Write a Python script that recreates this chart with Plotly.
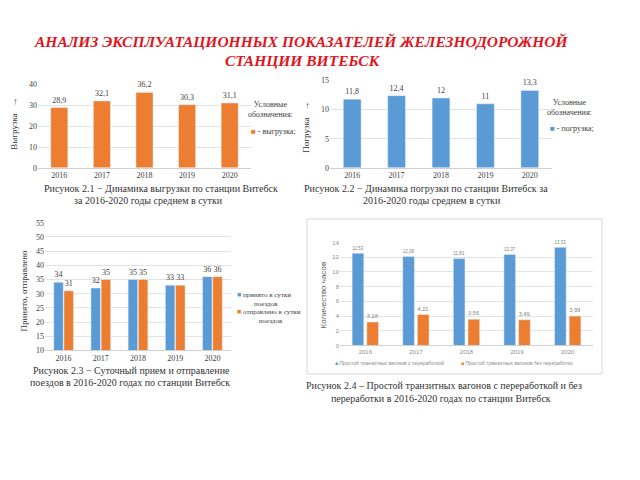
import plotly.graph_objects as go

# ---------------- data ----------------
years = ["2016", "2017", "2018", "2019", "2020"]
unloading = [28.9, 32.1, 36.2, 30.3, 31.1]          # Рис. 2.1 выгрузка
loading = [11.8, 12.4, 12, 11, 13.3]                # Рис. 2.2 погрузка
trains_received = [34, 32, 35, 33, 36]              # Рис. 2.3 принято
trains_sent = [31, 35, 35, 33, 36]                  # Рис. 2.3 отправлено
idle_with = [12.53, 12.08, 11.81, 12.37, 13.33]     # Рис. 2.4 с переработкой
idle_without = [3.18, 4.21, 3.56, 3.49, 3.99]       # Рис. 2.4 без переработки

ORANGE = "#ed7d31"
BLUE = "#5b9bd5"
SERIF = "Liberation Serif, DejaVu Serif, serif"
SANS = "Liberation Sans, Arial, sans-serif"
GRID = "#e3e3e3"
TXT = "#404040"
W, H = 640, 480


def px(x):
    return x / W


def py(y):
    return 1 - y / H


fig = go.Figure()

lab_serif = dict(family=SERIF, size=8, color=TXT)
lab_sans = dict(family=SANS, size=6, color="#7f7f7f")

# Chart 1
fig.add_bar(x=years, y=unloading, xaxis="x", yaxis="y", marker_color=ORANGE,
            width=0.4, texttemplate="%{y}", textposition="outside",
            textfont=lab_serif, cliponaxis=False, showlegend=False)
# Chart 2
fig.add_bar(x=years, y=loading, xaxis="x2", yaxis="y2", marker_color=BLUE,
            width=0.4, texttemplate="%{y}", textposition="outside",
            textfont=lab_serif, cliponaxis=False, showlegend=False)
# Chart 3
fig.add_bar(x=years, y=trains_received, xaxis="x3", yaxis="y3", marker_color=BLUE,
            width=0.255, offset=-0.265, texttemplate="%{y}", textposition="outside",
            textfont=lab_serif, cliponaxis=False, showlegend=False,
            name="принято в сутки поездов")
fig.add_bar(x=years, y=trains_sent, xaxis="x3", yaxis="y3", marker_color=ORANGE,
            width=0.255, offset=0.01, texttemplate="%{y}", textposition="outside",
            textfont=lab_serif, cliponaxis=False, showlegend=False,
            name="отправлено в сутки поездов")
# Chart 4
fig.add_bar(x=years, y=idle_with, xaxis="x4", yaxis="y4", marker_color=BLUE,
            width=0.23, offset=-0.26, texttemplate="%{y}", textposition="outside",
            textfont=lab_sans, cliponaxis=False, showlegend=False,
            name="Простой транзитных вагонов с переработкой")
fig.add_bar(x=years, y=idle_without, xaxis="x4", yaxis="y4", marker_color=ORANGE,
            width=0.23, offset=0.03, texttemplate="%{y}", textposition="outside",
            textfont=lab_sans, cliponaxis=False, showlegend=False,
            name="Простой транзитных вагонов без переработки")


def xax(x0, x1, y_anchor, font):
    return dict(domain=[px(x0), px(x1)], anchor=y_anchor, type="category",
                showline=True, linecolor="#d0d0d0", linewidth=1,
                showgrid=False, zeroline=False, ticks="",
                tickfont=font, fixedrange=True)


def yax(y0, y1, x_anchor, rng, dtick, font):
    return dict(domain=[py(y0), py(y1)], anchor=x_anchor, range=rng, dtick=dtick,
                showline=False, showgrid=True, gridcolor=GRID, gridwidth=1,
                zeroline=False, ticks="", tickfont=font, fixedrange=True)


tick_serif = dict(family=SERIF, size=8, color="#404040")
tick_sans = dict(family=SANS, size=6, color="#8c8c8c")

annotations = []


def note(text, x, y, size=10, color="#333333", family=SERIF, xanchor="center",
         angle=0, yanchor="middle", weight="normal", style="normal"):
    annotations.append(dict(text=text, x=px(x), y=py(y), xref="paper", yref="paper",
                            showarrow=False, xanchor=xanchor, yanchor=yanchor,
                            textangle=angle,
                            font=dict(family=family, size=size, color=color,
                                      weight=weight, style=style)))


# Title
note("АНАЛИЗ ЭКСПЛУАТАЦИОННЫХ ПОКАЗАТЕЛЕЙ ЖЕЛЕЗНОДОРОЖНОЙ", 301, 38,
     size=15.5, color="#e3151c", weight="bold", style="italic")
note("СТАНЦИИ ВИТЕБСК", 303, 58, size=15.5, color="#e3151c",
     weight="bold", style="italic")

# Axis titles
note("Выгрузка\u00a0\u00a0\u00a0\u2192", 14, 122, size=9, angle=-90)
note("Погрузка\u00a0\u00a0\u00a0\u2192", 306, 126, size=9, angle=-90)
note("Принято, отправлено", 24, 292, size=9, angle=-90)
note("Количество часов", 323, 297, size=8, family=SANS, color="#595959", angle=-90)

# Legends chart 1
note("Условные<br>обозначения:", 270, 108, size=8, color=TXT)
note("<span style='color:%s'>■</span> - выгрузка;" % ORANGE, 249, 130, size=8,
     color=TXT, xanchor="left")
# Legends chart 2
note("Условные<br>обозначения:", 569, 105, size=8, color=TXT)
note("<span style='color:%s'>■</span> - погрузка;" % BLUE, 548, 127, size=8,
     color=TXT, xanchor="left")
# Legends chart 3
note("<span style='color:%s'>■</span> принято в сутки<br>\u00a0\u00a0поездов" % BLUE,
     235, 301, size=7, color=TXT, xanchor="left")
note("<span style='color:%s'>■</span> отправлено в сутки<br>\u00a0\u00a0поездов" % ORANGE,
     235, 318, size=7, color=TXT, xanchor="left")
# Legends chart 4
note("<span style='color:%s'>■</span> Простой транзитных вагонов с переработкой" % BLUE,
     333, 366, size=5, family=SANS, color="#8c8c8c", xanchor="left")
note("<span style='color:%s'>■</span> Простой транзитных вагонов без переработки" % ORANGE,
     459, 366, size=5, family=SANS, color="#8c8c8c", xanchor="left")

# Captions
note("Рисунок 2.1 \u2212 Динамика выгрузки по станции Витебск", 161, 188)
note("за 2016-2020 годы среднем в сутки", 148, 200)
note("Рисунок 2.2 \u2212 Динамика погрузки по станции Витебск за", 426, 188)
note("2016-2020 годы среднем в сутки", 432, 200)
note("Рисунок 2.3 \u2212 Суточный прием и отправление", 131, 374)
note("поездов в 2016-2020 годах по станции Витебск", 130, 386)
note("Рисунок 2.4 \u2013 Простой транзитных вагонов с переработкой и без", 444, 389)
note("переработки в 2016-2020 годах по станции Витебск", 441, 402)

fig.update_layout(
    width=W, height=H, margin=dict(l=0, r=0, t=0, b=0),
    paper_bgcolor="white", plot_bgcolor="white",
    separators=", ",
    barmode="overlay",
    xaxis=xax(38, 251, "y", tick_serif),
    yaxis=yax(167, 82, "x", [0, 40], 10, tick_serif),
    xaxis2=xax(330, 552, "y2", tick_serif),
    yaxis2=yax(167, 78, "x2", [0, 15], 5, tick_serif),
    xaxis3=xax(45, 231, "y3", tick_serif),
    yaxis3=yax(353, 223, "x3", [10, 55], 5, tick_serif),
    xaxis4=xax(340, 593, "y4", tick_sans),
    yaxis4=yax(348, 243, "x4", [0, 14], 2, tick_sans),
    annotations=annotations,
    shapes=[dict(type="rect", xref="paper", yref="paper",
                 x0=px(307), x1=px(602), y0=py(377), y1=py(219),
                 line=dict(color="#d9d9d9", width=1), fillcolor="rgba(0,0,0,0)")],
)

fig.write_html("out.html",
               config={"displayModeBar": False, "staticPlot": True},
               post_script="document.body.style.margin='0';"
                           "document.body.style.overflow='hidden';")
